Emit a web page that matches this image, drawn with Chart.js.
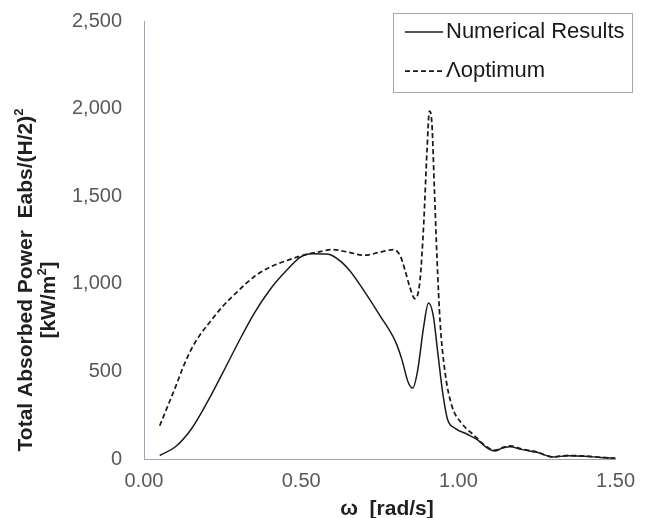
<!DOCTYPE html>
<html>
<head>
<meta charset="utf-8">
<title>Total Absorbed Power</title>
<script src="https://cdn.jsdelivr.net/npm/chart.js@4.4.1/dist/chart.umd.min.js"></script>
<style>
  body { margin: 0; background: #fff; }
  canvas { display: block; }
</style>
</head>
<body>
<canvas id="grafico-potencia" width="645" height="518"></canvas>
<script>
// Numerical Results: omega [rad/s] vs Eabs/(H/2)^2 [kW/m2]
const omegaNumerico = [0.05, 0.10, 0.15, 0.20, 0.25, 0.30, 0.35, 0.40, 0.45, 0.50, 0.53, 0.58, 0.60, 0.65, 0.70, 0.75, 0.80, 0.82, 0.84, 0.855, 0.87, 0.89, 0.905, 0.92, 0.935, 0.95, 0.965, 0.99, 1.03, 1.06, 1.09, 1.115, 1.14, 1.165, 1.20, 1.25, 1.30, 1.35, 1.40, 1.45, 1.50];
const potenciaNumerico = [20, 70, 170, 320, 490, 665, 830, 965, 1070, 1155, 1172, 1170, 1160, 1085, 960, 820, 670, 570, 440, 405, 500, 760, 890, 820, 600, 380, 230, 175, 140, 110, 65, 45, 62, 70, 55, 38, 12, 18, 16, 9, 4];

// Λoptimum
const omegaOptimo = [0.05, 0.075, 0.10, 0.125, 0.15, 0.175, 0.20, 0.25, 0.30, 0.35, 0.40, 0.45, 0.50, 0.55, 0.60, 0.65, 0.70, 0.75, 0.795, 0.815, 0.83, 0.845, 0.862, 0.878, 0.89, 0.90, 0.908, 0.916, 0.924, 0.932, 0.942, 0.958, 0.98, 1.01, 1.05, 1.09, 1.115, 1.14, 1.165, 1.20, 1.25, 1.30, 1.35, 1.40, 1.45, 1.50];
const potenciaOptimo = [190, 300, 410, 527, 625, 700, 760, 870, 960, 1040, 1095, 1130, 1160, 1180, 1195, 1180, 1163, 1180, 1195, 1160, 1080, 985, 915, 1020, 1350, 1750, 1985, 1910, 1530, 1150, 780, 490, 300, 205, 135, 70, 50, 65, 75, 58, 40, 12, 20, 17, 10, 4];

const ticksX = [0, 0.5, 1.0, 1.5];
const ticksY = [0, 500, 1000, 1500, 2000, 2500];

const FUENTE = '"Liberation Sans", Arial, sans-serif';
const COLOR_EJE = '#98a5bb';

function puntos(xs, ys) {
  return xs.map((x, i) => ({ x: x, y: ys[i] }));
}

// escribe una linea con partes en superindice, centrada en cx
function textoConSup(ctx, partes, cx, y, size) {
  const base = 'bold ' + size + 'px ' + FUENTE;
  const sup = 'bold ' + Math.round(size * 0.62) + 'px ' + FUENTE;
  let total = 0;
  partes.forEach(p => {
    ctx.font = p[1] ? sup : base;
    total += ctx.measureText(p[0]).width;
  });
  let x = cx - total / 2;
  partes.forEach(p => {
    ctx.font = p[1] ? sup : base;
    ctx.fillText(p[0], x, p[1] ? y - size * 0.42 : y);
    x += ctx.measureText(p[0]).width;
  });
}

// titulos de ejes y leyenda dibujados a mano
const extras = {
  id: 'extras',
  afterDraw(chart) {
    const ctx = chart.ctx;
    ctx.save();
    ctx.fillStyle = '#1f1f1f';
    ctx.textAlign = 'left';
    ctx.textBaseline = 'alphabetic';

    // eje Y
    ctx.save();
    ctx.translate(32, 280);
    ctx.rotate(-Math.PI / 2);
    textoConSup(ctx, [['Total Absorbed Power  Eabs/(H/2)', false], ['2', true]], 0, 0, 21);
    ctx.restore();
    ctx.save();
    ctx.translate(55, 300);
    ctx.rotate(-Math.PI / 2);
    textoConSup(ctx, [['[kW/m', false], ['2', true], [']', false]], 0, 0, 21);
    ctx.restore();

    // eje X
    textoConSup(ctx, [['\u03C9  [rad/s]', false]], 387, 515, 21);

    // leyenda
    ctx.strokeStyle = '#a6a6a6';
    ctx.lineWidth = 1;
    ctx.strokeRect(393.5, 13.5, 239, 79);
    const filas = [32, 71];
    chart.data.datasets.forEach((ds, i) => {
      const y = filas[i];
      ctx.beginPath();
      ctx.strokeStyle = ds.borderColor;
      ctx.lineWidth = ds.borderWidth;
      ctx.setLineDash(ds.borderDash || []);
      ctx.moveTo(405, y);
      ctx.lineTo(443, y);
      ctx.stroke();
      ctx.setLineDash([]);
      ctx.font = '22px ' + FUENTE;
      ctx.fillStyle = '#1a1a1a';
      ctx.textBaseline = 'middle';
      ctx.fillText(ds.label, 446, y);
    });
    ctx.restore();
  }
};

const ctx = document.getElementById('grafico-potencia');
new Chart(ctx, {
  type: 'line',
  data: {
    datasets: [{
      label: 'Numerical Results',
      data: puntos(omegaNumerico, potenciaNumerico),
      borderColor: '#1a1a1a',
      borderWidth: 1.5,
      pointRadius: 0,
      cubicInterpolationMode: 'monotone',
      fill: false
    }, {
      label: '\u039Boptimum',
      data: puntos(omegaOptimo, potenciaOptimo),
      borderColor: '#1a1a1a',
      borderWidth: 1.75,
      borderDash: [5, 3],
      pointRadius: 0,
      cubicInterpolationMode: 'monotone',
      fill: false
    }]
  },
  options: {
    responsive: false,
    animation: false,
    layout: { padding: { left: 0, right: 25, top: 21, bottom: 0 } },
    plugins: {
      legend: { display: false },
      tooltip: { enabled: false }
    },
    scales: {
      x: {
        type: 'linear',
        min: 0,
        max: 1.5,
        afterBuildTicks: s => { s.ticks = ticksX.map(v => ({ value: v })); },
        afterFit: s => { s.height = 59; },
        grid: { display: false, drawTicks: false },
        border: { display: true, color: COLOR_EJE, width: 1 },
        ticks: {
          padding: 10,
          color: '#595959',
          font: { size: 20, family: FUENTE },
          callback: v => Number(v).toFixed(2)
        }
      },
      y: {
        min: 0,
        max: 2500,
        afterBuildTicks: s => { s.ticks = ticksY.map(v => ({ value: v })); },
        // ancho fijo y sin el margen extra que mete el padding de los ticks
        afterFit: s => { s.width = 144; s.paddingTop = 0; s.paddingBottom = 0; },
        grid: { display: false, drawTicks: false },
        border: { display: true, color: COLOR_EJE, width: 1 },
        ticks: {
          padding: 22,
          color: '#595959',
          font: { size: 20, family: FUENTE },
          callback: v => Number(v).toLocaleString('en-US')
        }
      }
    }
  },
  plugins: [extras]
});
</script>
</body>
</html>
